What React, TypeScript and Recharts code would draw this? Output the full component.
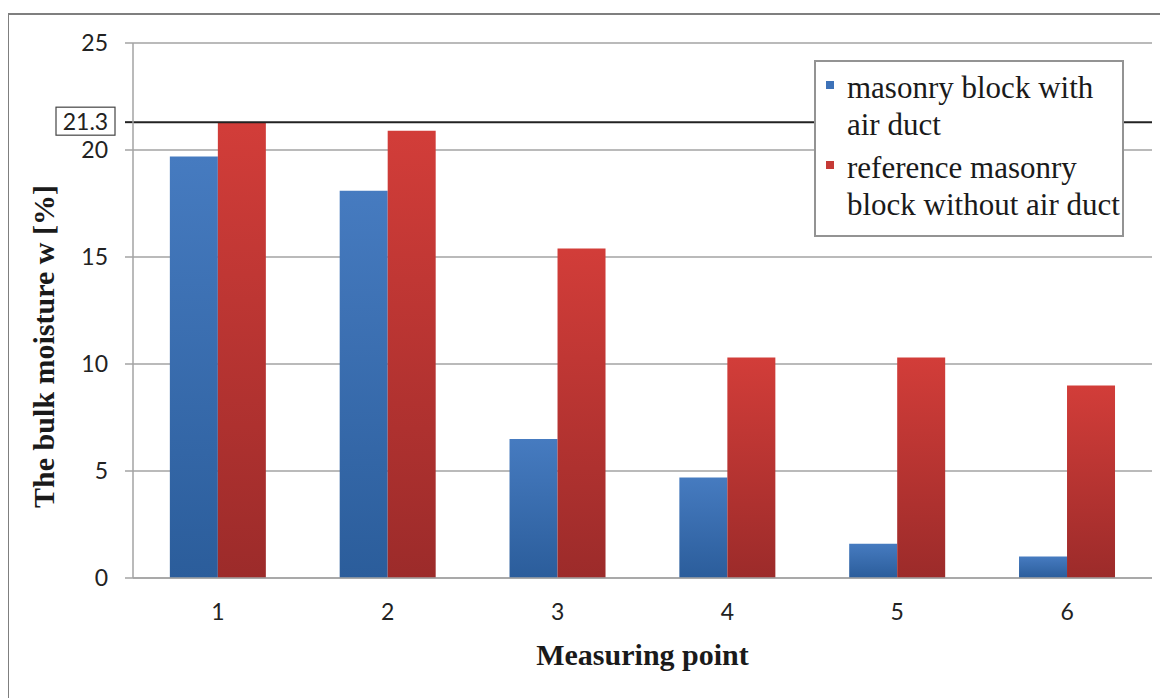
import React from "react";
import {
  Bar,
  BarChart,
  CartesianGrid,
  Label,
  Legend,
  ReferenceLine,
  XAxis,
  YAxis,
} from "recharts";

const categories = ["1", "2", "3", "4", "5", "6"];
const withDuct = [19.7, 18.1, 6.5, 4.7, 1.6, 1.0];
const withoutDuct = [21.3, 20.9, 15.4, 10.3, 10.3, 9.0];
const yTicks = [0, 5, 10, 15, 20, 25];
const referenceValue = 21.3;
const seriesNames = [
  "masonry block with air duct",
  "reference masonry block without air duct",
];
const legendColors = ["#3d72b8", "#c53a36"];

const data = categories.map((point, i) => ({
  point,
  withDuct: withDuct[i],
  withoutDuct: withoutDuct[i],
}));

const SANS = "Lato, 'Open Sans', sans-serif";
const SERIF = "'Liberation Serif', 'Times New Roman', 'DejaVu Serif', serif";
const GRID = "#a3a3a3";

function LegendBox({ payload }: any) {
  return (
    <div
      style={{
        width: 306,
        height: 173,
        boxSizing: "content-box",
        border: "2px solid #939393",
        background: "#fff",
        fontFamily: SERIF,
      }}
    >
      <div style={{ paddingTop: 7 }}>
        {(payload || []).map((item: any, i: number) => (
          <div
            key={i}
            style={{
              display: "flex",
              alignItems: "flex-start",
              marginBottom: 6,
            }}
          >
            <span
              style={{
                display: "inline-block",
                width: 8,
                height: 8,
                marginLeft: 10,
                marginRight: 13,
                marginTop: 12,
                flex: "0 0 auto",
                background: legendColors[i],
              }}
            />
            <span
              style={{
                fontFamily: SERIF,
                fontSize: 31,
                lineHeight: "37px",
                color: "#1a1a1a",
                width: 280,
                textAlign: "left",
              }}
            >
              {item.value}
            </span>
          </div>
        ))}
      </div>
    </div>
  );
}

export default function App() {
  return (
    <div style={{ position: "relative", width: 1160, height: 690 }}>
      <div
        style={{
          position: "absolute",
          left: -1,
          top: 5,
          width: 1160,
          height: 700,
          borderTop: "2px solid #7f7f7f",
          borderLeft: "2px solid #7f7f7f",
        }}
      />
      <div style={{ position: "absolute", left: 0, top: 0 }}>
        <BarChart
          width={1160}
          height={690}
          data={data}
          margin={{ top: 35, right: 16, bottom: 0, left: 0 }}
          barCategoryGap="21.7%"
          barGap={0}
        >
          <defs>
            <linearGradient id="gradBlue" x1="0" y1="0" x2="0" y2="1">
              <stop offset="0%" stopColor="#467bc0" />
              <stop offset="100%" stopColor="#2b5d9b" />
            </linearGradient>
            <linearGradient id="gradRed" x1="0" y1="0" x2="0" y2="1">
              <stop offset="0%" stopColor="#d23d39" />
              <stop offset="100%" stopColor="#9c2b2a" />
            </linearGradient>
          </defs>
          <CartesianGrid vertical={false} stroke={GRID} strokeWidth={1.5} />
          <XAxis
            dataKey="point"
            height={120}
            tickLine={false}
            tickSize={0}
            tickMargin={26}
            axisLine={{ stroke: GRID, strokeWidth: 1.5 }}
            tick={{ fontFamily: SANS, fontSize: 23, fill: "#222" }}
          >
            <Label
              content={({ viewBox }: any) => (
                <text
                  x={viewBox.x + viewBox.width / 2}
                  y={viewBox.y + 87}
                  textAnchor="middle"
                  fontFamily={SERIF}
                  fontWeight="bold"
                  fontSize={30}
                  fill="#1a1a1a"
                >
                  Measuring point
                </text>
              )}
            />
          </XAxis>
          <YAxis
            width={125}
            domain={[0, 25]}
            ticks={yTicks}
            interval={0}
            tickSize={8}
            tickMargin={17}
            tickLine={{ stroke: GRID, strokeWidth: 1.5 }}
            axisLine={{ stroke: GRID, strokeWidth: 1.5 }}
            tick={{ fontFamily: SANS, fontSize: 23, fill: "#222" }}
          >
            <Label
              content={({ viewBox }: any) => {
                const cx = viewBox.x + 35;
                const cy = viewBox.y + viewBox.height / 2 + 36;
                return (
                  <text
                    x={cx}
                    y={cy}
                    transform={`rotate(-90 ${cx} ${cy})`}
                    textAnchor="middle"
                    dominantBaseline="central"
                    fontFamily={SERIF}
                    fontWeight="bold"
                    fontSize={30}
                    fill="#1a1a1a"
                  >
                    The bulk moisture w [%]
                  </text>
                );
              }}
            />
          </YAxis>
          <YAxis
            yAxisId="right"
            orientation="right"
            width={0}
            domain={[0, 25]}
            tick={false}
            tickLine={false}
            axisLine={{ stroke: GRID, strokeWidth: 1.5 }}
          />
          <Legend
            layout="vertical"
            align="center"
            verticalAlign="middle"
            wrapperStyle={{ left: 806, top: 52, width: 310 }}
            content={<LegendBox />}
          />
          <Bar
            dataKey="withDuct"
            name={seriesNames[0]}
            fill="url(#gradBlue)"
            isAnimationActive={false}
          />
          <Bar
            dataKey="withoutDuct"
            name={seriesNames[1]}
            fill="url(#gradRed)"
            isAnimationActive={false}
          />
          <ReferenceLine
            y={referenceValue}
            stroke="#222"
            strokeWidth={2}
            label={({ viewBox }: any) => (
              <g>
                <line
                  x1={viewBox.x - 8}
                  x2={viewBox.x}
                  y1={viewBox.y}
                  y2={viewBox.y}
                  stroke="#222"
                  strokeWidth={2}
                />
                <rect
                  x={viewBox.x - 77}
                  y={viewBox.y - 15}
                  width={59}
                  height={28}
                  fill="#fff"
                  stroke="#444"
                  strokeWidth={1.2}
                />
                <text
                  x={viewBox.x - 47.5}
                  y={viewBox.y - 1}
                  textAnchor="middle"
                  dominantBaseline="central"
                  fontFamily={SANS}
                  fontSize={23}
                  fill="#222"
                >
                  {referenceValue}
                </text>
              </g>
            )}
          />
        </BarChart>
      </div>
    </div>
  );
}
